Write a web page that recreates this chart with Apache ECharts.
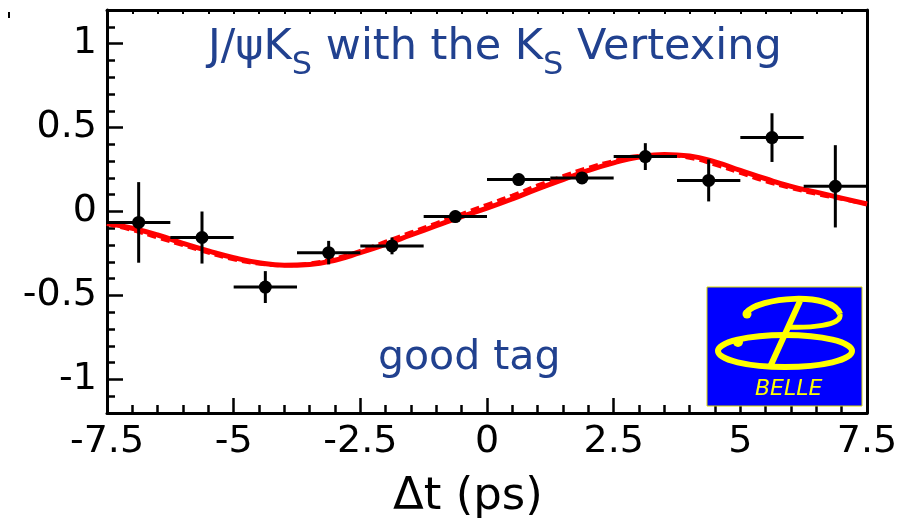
<!DOCTYPE html>
<html>
<head>
<meta charset="utf-8">
<script src="https://cdn.jsdelivr.net/npm/echarts@6/dist/echarts.min.js"></script>
<style>
  html, body { margin: 0; padding: 0; background: #fff; }
  #main { width: 907px; height: 525px; }
</style>
</head>
<body>
<div id="main"></div>
<script>
// 数据: Δt 分箱中心, 不对称度测量值, 误差
var binCenters = [-6.875, -5.625, -4.375, -3.125, -1.875, -0.625, 0.625, 1.875, 3.125, 4.375, 5.625, 6.875];
var asymValues = [-0.065, -0.155, -0.45, -0.245, -0.205, -0.03, 0.19, 0.2, 0.327, 0.185, 0.44, 0.15];
var asymErrors = [0.24, 0.155, 0.095, 0.07, 0.05, 0.035, 0.035, 0.035, 0.08, 0.125, 0.145, 0.245];
var binHalfWidth = 0.625;

// 拟合曲线
var fitDt = [-7.5, -7, -6.5, -6, -5.5, -5, -4.5, -4, -3.5, -3, -2.5, -2, -1.5, -1, -0.5, 0,
             0.5, 1, 1.5, 2, 2.5, 3, 3.5, 4, 4.5, 5, 5.5, 6, 6.5, 7, 7.5];
var fitSolid = [-0.07, -0.1, -0.14, -0.19, -0.235, -0.275, -0.305, -0.32, -0.315, -0.29, -0.245, -0.195, -0.14, -0.085, -0.03, 0.02,
                0.075, 0.135, 0.19, 0.245, 0.29, 0.325, 0.34, 0.33, 0.295, 0.245, 0.195, 0.15, 0.115, 0.08, 0.045];
var fitDashed = [-0.075, -0.11, -0.155, -0.2, -0.245, -0.285, -0.31, -0.32, -0.31, -0.28, -0.235, -0.18, -0.125, -0.07, -0.015, 0.04,
                 0.095, 0.155, 0.21, 0.26, 0.3, 0.33, 0.335, 0.32, 0.28, 0.23, 0.18, 0.14, 0.105, 0.075, 0.045];

var yTickLabels = [-1, -0.5, 0, 0.5, 1];

var FONT = 'DejaVu Sans';
var BLUE = '#21418f';
var YELLOW = '#ffff00';

// 测量文字宽度, 用来拼接下标
var ctx = document.createElement('canvas').getContext('2d');
function textWidth(str, size) {
  ctx.font = size + 'px "' + FONT + '"';
  return ctx.measureText(str).width;
}

function zip(a, b) {
  return a.map(function (v, i) { return [v, b[i]]; });
}

// 标题: J/ψK_S with the K_S Vertexing
var titleParts = [
  ['J/\u03c8K', false], ['S', true], [' with the K', false], ['S', true], [' Vertexing', false]
];
var titleGraphics = [];
var tx = 208;
titleParts.forEach(function (p) {
  var size = p[1] ? 32 : 43;
  var baseline = p[1] ? 77 : 63;
  titleGraphics.push({
    type: 'text', x: tx, y: baseline - 0.346 * size,
    style: { text: p[0], font: size + 'px "' + FONT + '"', fill: BLUE, verticalAlign: 'middle', align: 'left' }
  });
  tx += textWidth(p[0], size);
});

var myChart = echarts.init(document.getElementById('main'));

var axisLineStyle = { color: '#000', width: 3 };
var tickStyle = { color: '#000', width: 2.5 };

var option = {
  animation: false,
  backgroundColor: '#fff',
  grid: { left: 107, right: 40, top: 10, bottom: 112 },
  xAxis: [
    {
      type: 'value', min: -7.5, max: 7.5, interval: 2.5, position: 'bottom',
      axisLine: { show: true, onZero: false, lineStyle: axisLineStyle },
      axisTick: { show: true, inside: true, length: 15, lineStyle: tickStyle },
      minorTick: { show: true, splitNumber: 5, length: 8, lineStyle: tickStyle },
      axisLabel: {
        margin: 10, color: '#000', fontFamily: FONT, fontSize: 38,
        formatter: function (v) { return String(v); }
      },
      splitLine: { show: false }
    },
    {
      type: 'value', min: -7.5, max: 7.5, interval: 0.5, position: 'top',
      axisLine: { show: true, onZero: false, lineStyle: axisLineStyle },
      axisTick: { show: true, inside: true, length: 4, lineStyle: { color: '#000', width: 2 } },
      axisLabel: { show: false },
      splitLine: { show: false }
    }
  ],
  yAxis: [
    {
      type: 'value', min: -1.2, max: 1.2, interval: 0.1, position: 'left',
      axisLine: { show: true, onZero: false, lineStyle: axisLineStyle },
      axisTick: { show: true, inside: true, length: 8, lineStyle: tickStyle },
      axisLabel: { show: false },
      splitLine: { show: false }
    },
    {
      type: 'value', min: -1.2, max: 1.2, position: 'left',
      axisLine: { show: false, onZero: false },
      axisTick: { show: true, inside: true, length: 16, customValues: yTickLabels, lineStyle: tickStyle },
      axisLabel: {
        margin: 10, color: '#000', fontFamily: FONT, fontSize: 38, customValues: yTickLabels,
        formatter: function (v) { return String(v); }
      },
      splitLine: { show: false }
    },
    {
      type: 'value', min: -1.2, max: 1.2, position: 'right',
      axisLine: { show: true, onZero: false, lineStyle: axisLineStyle },
      axisTick: { show: false },
      axisLabel: { show: false },
      splitLine: { show: false }
    }
  ],
  series: [
    {
      type: 'line', data: zip(fitDt, fitDashed), smooth: true, showSymbol: false, symbol: 'none',
      lineStyle: { color: '#ff0000', width: 4, type: [9, 5] }, z: 2, silent: true
    },
    {
      type: 'line', data: zip(fitDt, fitSolid), smooth: true, showSymbol: false, symbol: 'none',
      lineStyle: { color: '#ff0000', width: 5 }, z: 3, silent: true
    },
    {
      type: 'custom', z: 4, silent: true,
      data: binCenters.map(function (x, i) { return [x, asymValues[i], asymErrors[i]]; }),
      encode: { x: 0, y: 1 },
      renderItem: function (params, api) {
        var x = api.value(0), y = api.value(1), e = api.value(2);
        var l = api.coord([x - binHalfWidth, y]);
        var r = api.coord([x + binHalfWidth, y]);
        var t = api.coord([x, y + e]);
        var b = api.coord([x, y - e]);
        var st = { stroke: '#000', lineWidth: 3 };
        return {
          type: 'group',
          children: [
            { type: 'line', shape: { x1: l[0], y1: l[1], x2: r[0], y2: r[1] }, style: st },
            { type: 'line', shape: { x1: t[0], y1: t[1], x2: b[0], y2: b[1] }, style: st }
          ]
        };
      }
    },
    {
      type: 'scatter', z: 5, silent: true, symbol: 'circle', symbolSize: 13,
      itemStyle: { color: '#000', opacity: 1 },
      data: zip(binCenters, asymValues)
    }
  ],
  graphic: titleGraphics.concat([
    { type: 'rect', shape: { x: 8, y: 12, width: 2, height: 6 }, style: { fill: '#000' } },
    {
      type: 'text', x: 378, y: 373 - 0.346 * 41,
      style: { text: 'good tag', font: '41px "' + FONT + '"', fill: BLUE, verticalAlign: 'middle' }
    },
    {
      type: 'text', x: 393, y: 513 - 0.346 * 45,
      style: { text: '\u0394t (ps)', font: '45px "' + FONT + '"', fill: '#000', verticalAlign: 'middle' }
    },
    // BELLE 标志
    { type: 'rect', z: 10, shape: { x: 707, y: 287, width: 155, height: 119 }, style: { fill: '#0000ff', stroke: '#d8d800', lineWidth: 1 } },
    { type: 'ellipse', z: 11, shape: { cx: 785, cy: 351, rx: 67, ry: 16 }, style: { fill: 'none', stroke: YELLOW, lineWidth: 6 } },
    { type: 'bezierCurve', z: 11, shape: { x1: 746, y1: 313, cpx1: 758, cpy1: 297, cpx2: 832, cpy2: 291, x2: 840, y2: 314 },
      style: { fill: 'none', stroke: YELLOW, lineWidth: 6 } },
    { type: 'bezierCurve', z: 11, shape: { x1: 840, y1: 314, cpx1: 843, cpy1: 326, cpx2: 808, cpy2: 328, x2: 786, y2: 327 },
      style: { fill: 'none', stroke: YELLOW, lineWidth: 5 } },
    { type: 'circle', z: 11, shape: { cx: 747, cy: 314, r: 4.5 }, style: { fill: YELLOW } },
    { type: 'circle', z: 11, shape: { cx: 738, cy: 342, r: 5 }, style: { fill: YELLOW } },
    { type: 'line', z: 11, shape: { x1: 800, y1: 301, x2: 770, y2: 367 }, style: { stroke: YELLOW, lineWidth: 6 } },
    {
      type: 'text', z: 11, x: 755, y: 389,
      style: { text: 'BELLE', font: 'italic 22px "' + FONT + '"', fill: YELLOW, verticalAlign: 'middle' }
    }
  ])
};

myChart.setOption(option);
</script>
</body>
</html>
